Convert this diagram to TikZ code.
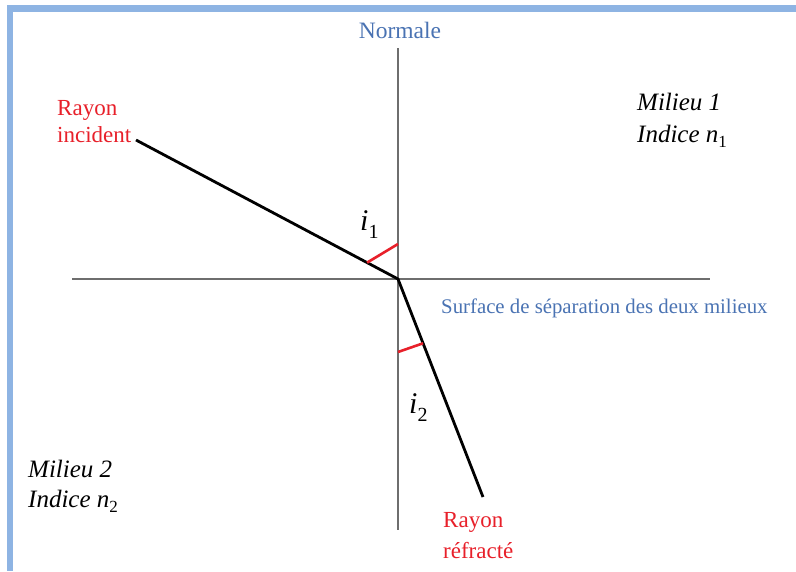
\documentclass[tikz,border=0pt]{standalone}
\usepackage{fontspec}
\setmainfont{Liberation Serif}
\usetikzlibrary{calc}
\definecolor{frameblue}{HTML}{8EB4E3}
\definecolor{txtblue}{HTML}{4A73B3}
\definecolor{txtred}{HTML}{E8202A}
\definecolor{axisgray}{HTML}{6E6E6E}
\newcommand\lowsub[1]{\raisebox{-0.22em}{\upshape\fontsize{17}{17}\selectfont #1}}
\newcommand\anglesub[1]{\raisebox{-0.28em}{\upshape\fontsize{20}{20}\selectfont #1}}
\begin{document}
\begin{tikzpicture}[x=1pt,y=-1pt,
  axis/.style={draw=axisgray, line width=1.9pt},
  ray/.style={draw=black, line width=2.8pt, line join=round},
  anglemark/.style={draw=txtred, line width=2.6pt},
  redtxt/.style={text=txtred, font=\fontsize{23}{27}\selectfont, inner sep=0pt},
  bluetxt/.style={text=txtblue, font=\fontsize{23.5}{27}\selectfont, inner sep=0pt},
  bluesmall/.style={text=txtblue, font=\fontsize{20.8}{25}\selectfont, inner sep=0pt},
  medtxt/.style={text=black, font=\fontsize{25}{30}\selectfont\itshape, inner sep=0pt},
  angtxt/.style={text=black, font=\fontsize{30}{32}\selectfont\itshape, inner sep=0pt}
]
\useasboundingbox (0,0) rectangle (796,571);
\fill[white] (0,0) rectangle (796,571);
\fill[frameblue] (7,5) rectangle (796,12);
\fill[frameblue] (7,5) rectangle (13,571);

\coordinate (O) at (398,279);
\coordinate (nt) at (398,48);
\coordinate (nb) at (398,530);
\coordinate (sl) at (72,279);
\coordinate (sr) at (710,279);
\coordinate (A) at (136,140);
\coordinate (B) at (483,497);

\draw[axis] (nt) -- (nb);
\draw[axis] (sl) -- (sr);
\draw[ray] (A) -- (O) -- (B);
\draw[anglemark] ($(O)!35pt!(nt)$) -- ($(O)!35pt!(A)$);
\draw[anglemark] ($(O)!73pt!(nb)$) -- ($(O)!69pt!(B)$);

\node[bluetxt, anchor=base] (normale) at (400,38) {Normale};
\node[redtxt, anchor=base west] (ri1) at (57,115) {Rayon};
\node[redtxt, anchor=base west] (ri2) at (57,142) {incident};
\node[medtxt, anchor=base west] (m1a) at (637,110) {Milieu 1};
\node[medtxt, anchor=base west] (m1b) at (637,142) {Indice n\lowsub{1}};
\node[bluesmall, anchor=base west] (surf) at (441,313) {Surface de séparation des deux milieux};
\node[medtxt, anchor=base west] (m2a) at (28,477) {Milieu 2};
\node[medtxt, anchor=base west] (m2b) at (28,507) {Indice n\lowsub{2}};
\node[redtxt, anchor=base west] (rr1) at (443,527) {Rayon};
\node[redtxt, anchor=base west] (rr2) at (443,558) {réfracté};
\node[angtxt, anchor=base west] (i1) at (360,230) {i\anglesub{1}};
\node[angtxt, anchor=base west] (i2) at (409,413) {i\anglesub{2}};
\end{tikzpicture}
\end{document}
